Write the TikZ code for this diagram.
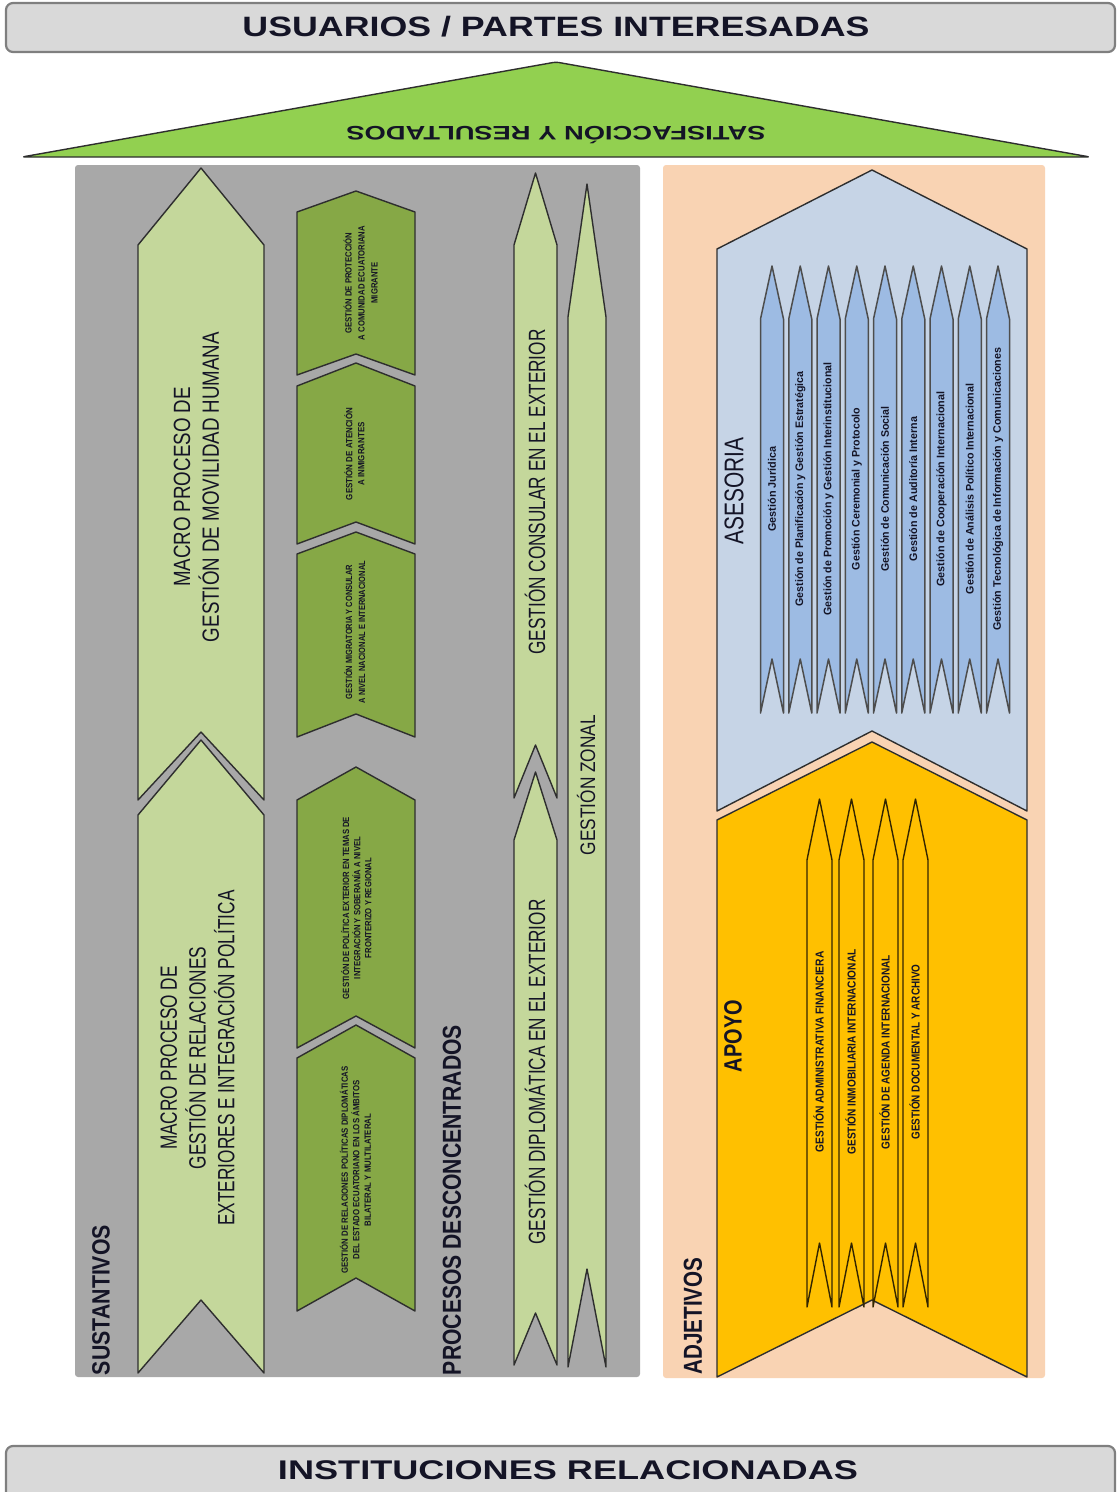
\documentclass[tikz,border=0pt]{standalone}
\usepackage{fontspec}
\setmainfont{Liberation Sans}
\usepackage{graphicx}

\definecolor{bandfill}{HTML}{D9D9D9}
\definecolor{bandline}{HTML}{7F7F7F}
\definecolor{roof}{HTML}{92D050}
\definecolor{panelgray}{HTML}{A8A8A8}
\definecolor{panelpeach}{HTML}{F9D3B3}
\definecolor{palegreen}{HTML}{C4D79B}
\definecolor{olive}{HTML}{86A846}
\definecolor{paleblue}{HTML}{C6D4E6}
\definecolor{midblue}{HTML}{9DBBE3}
\definecolor{amber}{HTML}{FFC000}
\definecolor{ink}{HTML}{141426}
\definecolor{edge}{HTML}{2E2E2E}

% text squeezed or stretched to a given length, keeping its height
\newcommand{\lab}[4]{\resizebox{#1pt}{\height}{\fontsize{#2pt}{#3pt}\selectfont #4}}
\newcommand{\stk}[1]{\begin{tabular}{@{}c@{}}#1\end{tabular}}
% block arrow: pointed head on top, notched tail at the bottom
% args: style, left x, right x, tip y, shoulder y, notch y, tail y
\newcommand{\blockarrow}[7]{\path[#1] ({#2},{#5}) -- ({(#2+#3)/2},{#4}) -- ({#3},{#5}) -- ({#3},{#7}) -- ({(#2+#3)/2},{#6}) -- ({#2},{#7}) -- cycle;}

\tikzset{
  lbl/.style={inner sep=0pt, outer sep=0pt, text=ink},
  vlbl/.style={lbl, rotate=90},
  band/.style={fill=bandfill, draw=bandline, line width=2.2pt},
  pale/.style={fill=palegreen, draw=edge, line width=1.4pt},
  darkchev/.style={fill=olive, draw=edge, line width=1.4pt},
  asesoria/.style={fill=paleblue, draw=edge, line width=1.4pt},
  apoyo/.style={fill=amber, draw=edge, line width=1.4pt},
  bluearrow/.style={fill=midblue, draw=edge!85, line width=1.5pt},
  amberarrow/.style={draw=black!80!amber, line width=1.4pt},
}

\begin{document}
\begin{tikzpicture}[x=1pt, y=-1pt, line join=round]
\useasboundingbox (0,0) rectangle (1117,1492);
\clip (0,0) rectangle (1117,1492);

% top and bottom bands
\draw[band, rounded corners=7] (6,3) rectangle (1115,52);
\node[lbl] (usuarios) at (556,27) {\lab{627}{28}{30}{\bfseries USUARIOS / PARTES INTERESADAS}};
\draw[band, rounded corners=7] (6,1446) rectangle (1115,1510);
\node[lbl] (instituciones) at (568,1470) {\lab{580}{27}{30}{\bfseries INSTITUCIONES RELACIONADAS}};

% roof
\draw[fill=roof, draw=edge, line width=1.4pt, rounded corners=3] (22,157) -- (556,62) -- (1090,157) -- cycle;
\node[lbl, rotate=180] (satisfaccion) at (556,135) {\lab{419}{19.5}{22}{\bfseries SATISFACCIÓN Y RESULTADOS}};

% panels
\fill[panelgray, rounded corners=3] (75,165) rectangle (640,1377);
\fill[panelpeach, rounded corners=3] (663,165) rectangle (1045,1378);

% macro processes
\blockarrow{pale}{138}{264}{168}{245}{732}{800}
\blockarrow{pale}{138}{264}{740}{815}{1300}{1373}
\node[vlbl] (movilidad) at (199,487) {\lab{310}{23.5}{28}{\stk{MACRO PROCESO DE\\GESTIÓN DE MOVILIDAD HUMANA}}};
\node[vlbl] (relaciones) at (200,1058) {\lab{335}{23.5}{28}{\stk{MACRO PROCESO DE\\GESTIÓN DE RELACIONES\\EXTERIORES E INTEGRACIÓN POLÍTICA}}};
\node[vlbl] (sustantivos) at (101,1300) {\lab{150}{25}{30}{\bfseries SUSTANTIVOS}};

% process chevrons
\blockarrow{darkchev}{297}{415}{191}{212}{354}{375}
\blockarrow{darkchev}{297}{415}{363}{386}{522}{544}
\blockarrow{darkchev}{297}{415}{532}{554}{714}{737}
\blockarrow{darkchev}{297}{415}{767}{800}{1016}{1048}
\blockarrow{darkchev}{297}{415}{1025}{1058}{1278}{1311}
\node[vlbl] (proteccion) at (362,283) {\lab{114}{9}{13}{\bfseries\stk{GESTIÓN DE PROTECCIÓN\\A COMUNIDAD ECUATORIANA\\MIGRANTE}}};
\node[vlbl] (atencion) at (356,454) {\lab{92}{9}{12}{\bfseries\stk{GESTIÓN DE  ATENCIÓN\\A INMIGRANTES}}};
\node[vlbl] (migratoria) at (356,632) {\lab{142}{9}{13}{\bfseries\stk{GESTIÓN MIGRATORIA Y CONSULAR\\A NIVEL NACIONAL E INTERNACIONAL}}};
\node[vlbl] (politica) at (358,908) {\lab{182}{9}{11}{\bfseries\stk{GESTIÓN DE POLÍTICA EXTERIOR EN TEMAS DE\\INTEGRACIÓN Y SOBERANÍA A NIVEL\\FRONTERIZO Y REGIONAL}}};
\node[vlbl] (diplomaticas) at (357,1170) {\lab{207}{9}{11.5}{\bfseries\stk{GESTIÓN DE RELACIONES POLÍTICAS DIPLOMÁTICAS\\DEL ESTADO ECUATORIANO EN LOS ÁMBITOS\\BILATERAL Y MULTILATERAL}}};
\node[vlbl] (desconcentrados) at (452,1200) {\lab{350}{26}{30}{\bfseries PROCESOS DESCONCENTRADOS}};

% consular, diplomatic and zonal arrows
\blockarrow{pale}{514}{557}{173}{245}{745}{798}
\blockarrow{pale}{514}{557}{772}{840}{1313}{1365}
\blockarrow{pale}{568}{606}{184}{317}{1269}{1367}
\node[vlbl] (consular) at (535,492) {\lab{325}{23.5}{28}{GESTIÓN CONSULAR EN EL EXTERIOR}};
\node[vlbl] (diplomatica) at (535,1072) {\lab{345}{23.5}{28}{GESTIÓN DIPLOMÁTICA EN EL EXTERIOR}};
\node[vlbl] (zonal) at (586,785) {\lab{140}{21}{25}{GESTIÓN ZONAL}};

% advisory block
\blockarrow{asesoria}{717}{1027}{170}{249}{731}{811}
\foreach \i/\t/\len in {0/Gestión Jurídica/85,
  1/Gestión de Planificación y Gestión Estratégica/235,
  2/Gestión de Promoción y Gestión Interinstitucional/253,
  3/Gestión Ceremonial y Protocolo/162,
  4/Gestión de Comunicación Social/165,
  5/Gestión de Auditoría Interna/144,
  6/Gestión de Cooperación Internacional/195,
  7/Gestión de Análisis Político Internacional/210,
  8/Gestión Tecnológica de Información y Comunicaciones/283}{
  \pgfmathsetmacro\cx{772+28.25*\i}
  \blockarrow{bluearrow}{\cx-11.5}{\cx+11.5}{266}{319}{659}{713}
  \node[vlbl] (ases\i) at (\cx,489) {\lab{\len}{10.9}{13}{\bfseries \t}};
}
\node[vlbl] (asesorialbl) at (734,491) {\lab{107}{27}{30}{ASESORIA}};

% support block
\blockarrow{apoyo}{717}{1027}{742}{820}{1300}{1377}
\foreach \i/\cx/\t/\len in {0/819.5/GESTIÓN ADMINISTRATIVA FINANCIERA/201,
  1/851.5/GESTIÓN INMOBILIARIA INTERNACIONAL/205,
  2/885.5/GESTIÓN DE AGENDA INTERNACIONAL/194,
  3/915.5/GESTIÓN DOCUMENTAL Y ARCHIVO/175}{
  \blockarrow{amberarrow}{\cx-12.5}{\cx+12.5}{799}{860}{1243}{1307}
  \node[vlbl] (apoy\i) at (\cx-1,1052) {\lab{\len}{11.5}{13}{\bfseries \t}};
}
\node[vlbl] (apoyolbl) at (733,1036) {\lab{72}{25}{30}{\bfseries APOYO}};
\node[vlbl] (adjetivos) at (693,1316) {\lab{117}{26}{30}{\bfseries ADJETIVOS}};
\end{tikzpicture}
\end{document}
